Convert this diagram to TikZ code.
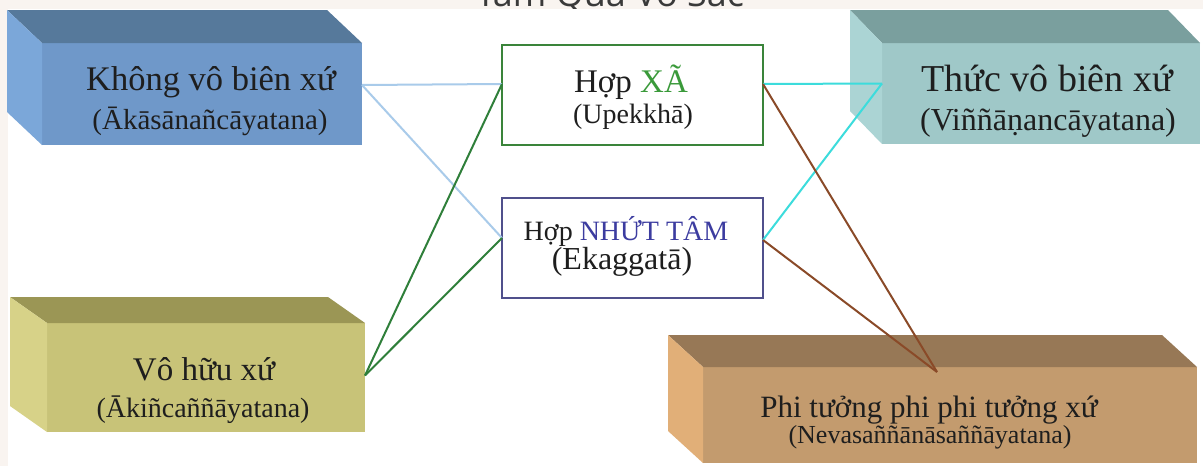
\documentclass[tikz,border=0pt]{standalone}
\usepackage{fontspec}
\setmainfont{Liberation Serif}
\newfontfamily\titlefont{Open Sans}
\definecolor{bgbeige}{HTML}{F9F4F0}
\definecolor{titlegray}{HTML}{3A3A3A}
\definecolor{txt}{HTML}{1E1E1E}
\definecolor{bAf}{HTML}{6F98C9}
\definecolor{bAt}{HTML}{56799B}
\definecolor{bAl}{HTML}{7BA7D9}
\definecolor{bBf}{HTML}{9FC8C8}
\definecolor{bBt}{HTML}{7A9F9E}
\definecolor{bBl}{HTML}{ABD4D4}
\definecolor{bCf}{HTML}{C8C378}
\definecolor{bCt}{HTML}{9B9655}
\definecolor{bCl}{HTML}{D7D288}
\definecolor{bDf}{HTML}{C39B6E}
\definecolor{bDt}{HTML}{977856}
\definecolor{bDl}{HTML}{E1AF78}
\definecolor{xagreen}{HTML}{3A843A}
\definecolor{xatext}{HTML}{3A9A3A}
\definecolor{ntblue}{HTML}{50508C}
\definecolor{nttext}{HTML}{3C3CA0}
\definecolor{lblue}{HTML}{A9CBEA}
\definecolor{dgreen}{HTML}{2F7F3A}
\definecolor{cyanl}{HTML}{3CDCDC}
\definecolor{brownl}{HTML}{8A4A28}
\begin{document}
\begin{tikzpicture}[x=1pt,y=-1pt,
  front/.style={rectangle, inner sep=0pt, outer sep=0pt, draw=none},
  midbox/.style={rectangle, inner sep=0pt, outer sep=0pt, fill=white, line width=2.5pt, minimum width=261, minimum height=100},
  boxtext/.style={anchor=base, text=txt, inner sep=0pt},
  conn/.style={line width=2pt}]
\useasboundingbox (0,0) rectangle (1203,466);
\fill[bgbeige] (0,0) rectangle (1203,466);
\node[anchor=base, inner sep=0pt, text=titlegray, font=\titlefont\fontsize{36}{40}\selectfont] (title) at (610,6) {Tâm Quả Vô Sắc};
\fill[white] (8,9) rectangle (1203,466);

% Box 1
\node[front, fill=bAf, minimum width=320, minimum height=102] (b1) at (202,94) {};
\fill[bAt] (b1.north west) -- ++(-35,-33) -- ++(320,0) -- (b1.north east) -- cycle;
\fill[bAl] (b1.north west) -- ++(-35,-33) -- ++(0,102) -- (b1.south west) -- cycle;
% Box 2
\node[front, fill=bBf, minimum width=318, minimum height=101] (b2) at (1041,93.5) {};
\fill[bBt] (b2.north west) -- ++(-32,-33) -- ++(318,0) -- (b2.north east) -- cycle;
\fill[bBl] (b2.north west) -- ++(-32,-33) -- ++(0,101) -- (b2.south west) -- cycle;
% Box 3
\node[front, fill=bCf, minimum width=318, minimum height=109] (b3) at (206,377.5) {};
\fill[bCt] (b3.north west) -- ++(-37,-26) -- ++(318,0) -- (b3.north east) -- cycle;
\fill[bCl] (b3.north west) -- ++(-37,-26) -- ++(0,109) -- (b3.south west) -- cycle;
% Box 4
\node[front, fill=bDf, minimum width=494, minimum height=96] (b4) at (950,415) {};
\fill[bDt] (b4.north west) -- ++(-35,-32) -- ++(494,0) -- (b4.north east) -- cycle;
\fill[bDl] (b4.north west) -- ++(-35,-32) -- ++(0,96) -- (b4.south west) -- cycle;

% middle boxes
\node[midbox, draw=xagreen] (xa) at (632.5,95) {};
\node[midbox, draw=ntblue] (nt) at (632.5,248) {};

% texts
\node[boxtext, font=\fontsize{34.5}{40}\selectfont] (t1a) at (211,90) {Không vô biên xứ};
\node[boxtext, font=\fontsize{29}{34}\selectfont] (t1b) at (210,129) {(Ākāsānañcāyatana)};
\node[boxtext, font=\fontsize{38}{42}\selectfont] (t2a) at (1047,91) {Thức vô biên xứ};
\node[boxtext, font=\fontsize{32}{36}\selectfont] (t2b) at (1048,130) {(Viññāṇancāyatana)};
\node[boxtext, font=\fontsize{33}{40}\selectfont] (t3a) at (204,380) {Vô hữu xứ};
\node[boxtext, font=\fontsize{28}{34}\selectfont] (t3b) at (203,417) {(Ākiñcaññāyatana)};
\node[boxtext, font=\fontsize{31}{36}\selectfont] (t4a) at (929,417) {Phi tưởng phi phi tưởng xứ};
\node[boxtext, font=\fontsize{26}{30}\selectfont] (t4b) at (930,443) {(Nevasaññānāsaññāyatana)};
\node[boxtext, font=\fontsize{33}{40}\selectfont] (txa) at (631,92) {Hợp \textcolor{xatext}{XÃ}};
\node[boxtext, font=\fontsize{28}{34}\selectfont] (txb) at (633,123) {(Upekkhā)};
\node[boxtext, font=\fontsize{28}{34}\selectfont] (tna) at (626,240) {Hợp \textcolor{nttext}{NHỨT TÂM}};
\node[boxtext, font=\fontsize{32}{36}\selectfont] (tnb) at (622,269) {(Ekaggatā)};

% connectors
\coordinate (pend) at (937,372);
\draw[conn, lblue] ([yshift=9pt]b1.east) -- ([yshift=11pt]xa.west);
\draw[conn, lblue] ([yshift=9pt]b1.east) -- ([yshift=10pt]nt.west);
\draw[conn, dgreen] ([yshift=2pt]b3.east) -- ([yshift=11pt]xa.west);
\draw[conn, dgreen] ([yshift=2pt]b3.east) -- ([yshift=10pt]nt.west);
\draw[conn, cyanl] ([yshift=11pt]xa.east) -- ([yshift=10pt]b2.west);
\draw[conn, cyanl] ([yshift=8pt]nt.east) -- ([yshift=10pt]b2.west);
\draw[conn, brownl] ([yshift=11pt]xa.east) -- (pend);
\draw[conn, brownl] ([yshift=8pt]nt.east) -- (pend);
\end{tikzpicture}
\end{document}
